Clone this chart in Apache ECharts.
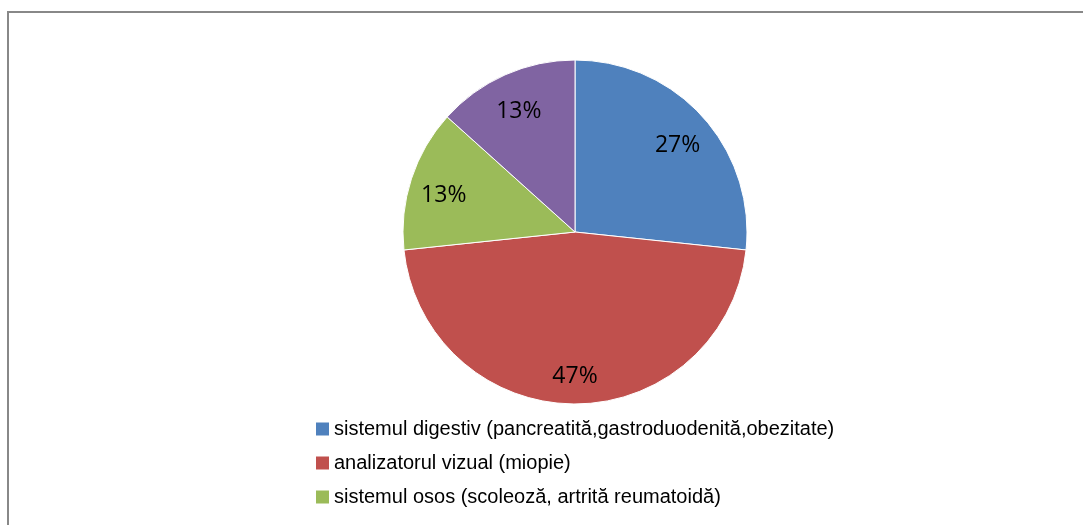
<!DOCTYPE html>
<html>
<head>
<meta charset="utf-8">
<script src="https://cdn.jsdelivr.net/npm/echarts@6/dist/echarts.min.js"></script>
<style>
html, body { margin: 0; padding: 0; background: #fff; }
#chart { width: 1083px; height: 525px; }
</style>
</head>
<body>
<div id="chart"></div>
<script>
// categorii si valori (procentele se calculeaza din valori)
var categories = [
	'sistemul digestiv (pancreatită,gastroduodenită,obezitate)',
	'analizatorul vizual (miopie)',
	'sistemul osos (scoleoză, artrită reumatoidă)',
	'alte afecțiuni'
];
var values = [4, 7, 2, 2];
var colors = ['#4F81BD', '#C0504D', '#9BBB59', '#8064A2'];
// doar primele trei apar in legenda din imagine
var legendNames = categories.slice(0, 3);

window.onload = function(){
	var chart = echarts.init(document.getElementById('chart'));
	chart.setOption(getPieOption());
};

function getPieOption(){
	var data = [];
	for (var i = 0; i < categories.length; i++) {
		data.push({ value: values[i], name: categories[i] });
	}
	var option = {
		animation: false,
		color: colors,
		graphic: [{
			type: 'rect',
			shape: { x: 8, y: 12, width: 1200, height: 700 },
			style: { fill: 'none', stroke: '#888', lineWidth: 2 }
		}],
		legend: {
			orient: 'vertical',
			left: 316,
			top: 418,
			padding: 0,
			itemWidth: 13,
			itemHeight: 13,
			itemGap: 12,
			itemTextGap: 6,
			icon: 'rect',
			itemStyle: { borderWidth: 0 },
			data: legendNames,
			textStyle: {
				fontFamily: '"Liberation Sans", Arial',
				fontSize: 20,
				lineHeight: 22,
				color: '#000'
			}
		},
		series: [
			{
				name: 'afecțiuni',
				type: 'pie',
				center: [575, 232],
				radius: [0, 172],
				startAngle: 90,
				clockwise: true,
				label: { show: false },
				labelLine: { show: false },
				itemStyle: { borderColor: '#fff', borderWidth: 1 },
				data: data
			},
			{
				// inel transparent folosit doar pentru pozitia etichetelor
				name: 'etichete',
				type: 'pie',
				center: [575, 232],
				radius: [98, 172],
				startAngle: 90,
				clockwise: true,
				silent: true,
				itemStyle: { color: 'rgba(0,0,0,0)' },
				labelLine: { show: false },
				label: {
					show: true,
					position: 'inside',
					offset: [0, 6],
					formatter: function(p){ return Math.round(p.percent) + '%'; },
					fontFamily: '"Open Sans", "Noto Sans", sans-serif',
					fontSize: 23,
					color: '#000'
				},
				data: data
			}
		]
	};
	return option;
}
</script>
</body>
</html>
